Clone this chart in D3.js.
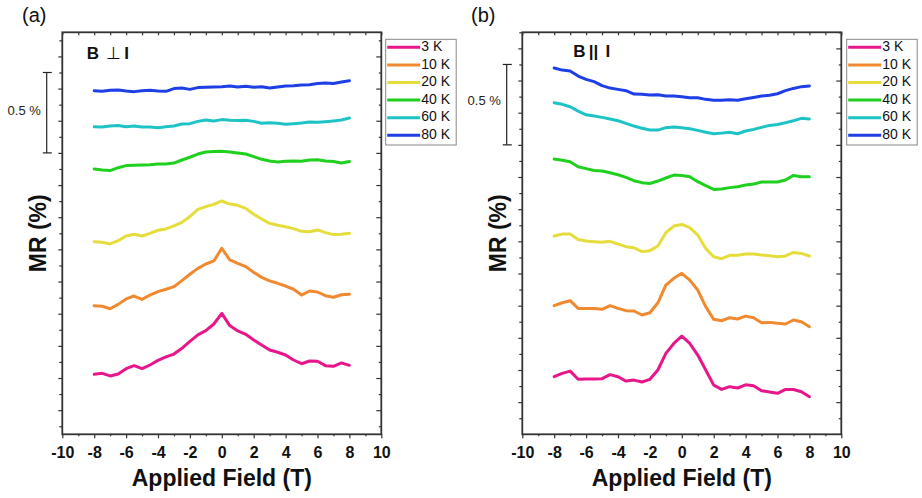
<!DOCTYPE html>
<html>
<head>
<meta charset="utf-8">
<script src="https://cdn.jsdelivr.net/npm/d3@7"></script>
<style>
body { margin: 0; background: #fff; }
svg text { font-family: Arial, "Liberation Sans", sans-serif; }
</style>
</head>
<body>
<div id="chart"></div>
<script>
// field grid (T)
const fieldT = [-8, -7.5, -7, -6.5, -6, -5.5, -5, -4.5, -4, -3.5, -3, -2.5, -2, -1.5, -1, -0.5,
    0, 0.5, 1, 1.5, 2, 2.5, 3, 3.5, 4, 4.5, 5, 5.5, 6, 6.5, 7, 7.5, 8];

const temps = ["3 K", "10 K", "20 K", "40 K", "60 K", "80 K"];
const colors = ["#e8168b", "#f0892f", "#e5dd3b", "#1fd01f", "#1ec3c5", "#1f3fe6"];

// (a) B perpendicular I, curves offset vertically (%)
const perp3 = [0.223, 0.229, 0.213, 0.225, 0.258, 0.277, 0.258, 0.281, 0.310, 0.331, 0.349, 0.385, 0.428, 0.468, 0.495, 0.536,
    0.602, 0.526, 0.493, 0.472, 0.437, 0.405, 0.374, 0.360, 0.343, 0.312, 0.289, 0.306, 0.304, 0.277, 0.273, 0.294, 0.279];
const perp10 = [0.650, 0.646, 0.631, 0.658, 0.692, 0.710, 0.689, 0.716, 0.737, 0.752, 0.768, 0.806, 0.845, 0.882, 0.909, 0.928,
    1.007, 0.934, 0.913, 0.893, 0.857, 0.826, 0.804, 0.789, 0.772, 0.752, 0.716, 0.741, 0.735, 0.712, 0.702, 0.718, 0.721];
const perp20 = [1.048, 1.044, 1.034, 1.054, 1.083, 1.094, 1.083, 1.100, 1.119, 1.127, 1.146, 1.168, 1.204, 1.249, 1.266, 1.280,
    1.301, 1.282, 1.274, 1.255, 1.218, 1.189, 1.162, 1.150, 1.141, 1.129, 1.112, 1.110, 1.121, 1.104, 1.092, 1.094, 1.100];
const perp40 = [1.500, 1.494, 1.490, 1.508, 1.521, 1.523, 1.525, 1.527, 1.531, 1.531, 1.537, 1.556, 1.573, 1.593, 1.606, 1.608,
    1.610, 1.606, 1.599, 1.593, 1.577, 1.560, 1.550, 1.544, 1.548, 1.550, 1.548, 1.556, 1.558, 1.550, 1.546, 1.537, 1.546];
const perp60 = [1.763, 1.761, 1.767, 1.770, 1.763, 1.767, 1.761, 1.761, 1.757, 1.763, 1.767, 1.780, 1.782, 1.796, 1.805, 1.799,
    1.807, 1.803, 1.801, 1.803, 1.796, 1.784, 1.788, 1.784, 1.778, 1.782, 1.786, 1.792, 1.790, 1.794, 1.799, 1.805, 1.817];
const perp80 = [1.987, 1.983, 1.989, 1.991, 1.985, 1.981, 1.987, 1.989, 1.985, 1.983, 2.000, 2.004, 1.995, 2.006, 2.008, 2.010,
    2.012, 2.016, 2.010, 2.014, 2.008, 2.012, 2.004, 2.010, 2.016, 2.018, 2.022, 2.024, 2.031, 2.035, 2.031, 2.041, 2.049];

// (b) B parallel I
const par3 = [0.158, 0.179, 0.193, 0.142, 0.144, 0.144, 0.146, 0.171, 0.158, 0.131, 0.137, 0.125, 0.142, 0.200, 0.303, 0.365,
    0.411, 0.365, 0.293, 0.200, 0.106, 0.079, 0.096, 0.088, 0.108, 0.102, 0.071, 0.063, 0.055, 0.079, 0.079, 0.065, 0.034];
const par10 = [0.600, 0.618, 0.631, 0.583, 0.583, 0.583, 0.577, 0.600, 0.583, 0.569, 0.567, 0.542, 0.556, 0.618, 0.728, 0.770,
    0.801, 0.759, 0.697, 0.594, 0.515, 0.506, 0.525, 0.517, 0.535, 0.525, 0.494, 0.496, 0.490, 0.486, 0.511, 0.500, 0.469];
const par20 = [1.033, 1.045, 1.045, 1.012, 1.002, 0.998, 0.994, 1.000, 0.983, 0.967, 0.960, 0.936, 0.942, 0.971, 1.054, 1.095,
    1.105, 1.085, 1.039, 0.956, 0.904, 0.892, 0.913, 0.913, 0.921, 0.921, 0.915, 0.911, 0.904, 0.909, 0.931, 0.925, 0.909];
const par40 = [1.512, 1.504, 1.495, 1.464, 1.452, 1.441, 1.437, 1.427, 1.414, 1.398, 1.377, 1.365, 1.360, 1.375, 1.394, 1.412,
    1.410, 1.402, 1.371, 1.346, 1.323, 1.325, 1.334, 1.340, 1.350, 1.356, 1.369, 1.369, 1.369, 1.381, 1.410, 1.402, 1.402];
const par60 = [1.862, 1.852, 1.837, 1.810, 1.787, 1.779, 1.771, 1.761, 1.750, 1.734, 1.717, 1.703, 1.692, 1.692, 1.707, 1.711,
    1.707, 1.700, 1.690, 1.678, 1.669, 1.673, 1.678, 1.669, 1.686, 1.696, 1.709, 1.721, 1.727, 1.738, 1.750, 1.765, 1.761];
const par80 = [2.078, 2.065, 2.059, 2.028, 2.007, 1.993, 1.968, 1.953, 1.945, 1.937, 1.916, 1.914, 1.910, 1.912, 1.904, 1.904,
    1.899, 1.893, 1.893, 1.883, 1.877, 1.877, 1.881, 1.877, 1.887, 1.895, 1.904, 1.908, 1.918, 1.937, 1.951, 1.962, 1.966];

const xMajor = [-10, -8, -6, -4, -2, 0, 2, 4, 6, 8, 10];
const xMinor = [-9, -7, -5, -3, -1, 1, 3, 5, 7, 9];
const yMajor = [0, 0.2, 0.4, 0.6, 0.8, 1.0, 1.2, 1.4, 1.6, 1.8, 2.0, 2.2];
const yMinor = [-0.1, 0.1, 0.3, 0.5, 0.7, 0.9, 1.1, 1.3, 1.5, 1.7, 1.9, 2.1, 2.3];
const scaleBar = [1.6, 2.1];

const svg = d3.select("#chart").append("svg")
    .attr("width", 922).attr("height", 498);

function drawPanel(p) {
    const width = 319, height = 402;
    const g = svg.append("g").attr("transform", `translate(${p.left},32.3)`);

    const x = d3.scaleLinear().domain([-10, 10]).range([0, width]);
    const y = d3.scaleLinear().domain(p.yDomain).range([height, 0]);

    // ticks
    const tickStyle = sel => {
        sel.select(".domain").remove();
        sel.selectAll("line").attr("stroke", "#333").attr("stroke-width", 1.2);
    };
    g.append("g").attr("transform", `translate(0,${height})`)
        .call(d3.axisBottom(x).tickValues(xMajor).tickSize(4).tickPadding(8).tickFormat(d => String(d)))
        .call(tickStyle)
        .selectAll("text")
        .attr("fill", "#111")
        .style("font-size", "16px").style("font-weight", "bold");
    g.append("g").attr("transform", `translate(0,${height})`)
        .call(d3.axisBottom(x).tickValues(xMinor).tickSize(2).tickFormat(""))
        .call(tickStyle);
    g.append("g")
        .call(d3.axisBottom(x).tickValues(xMajor.concat(xMinor)).tickSize(3).tickFormat(""))
        .call(tickStyle);
    g.append("g")
        .call(d3.axisLeft(y).tickValues(yMajor).tickSize(4).tickFormat(""))
        .call(tickStyle);
    g.append("g")
        .call(d3.axisLeft(y).tickValues(yMinor).tickSize(3).tickFormat(""))
        .call(tickStyle);
    g.append("g").attr("transform", `translate(${width},0)`)
        .call(d3.axisLeft(y).tickValues(yMajor).tickSize(5).tickFormat(""))
        .call(tickStyle);
    g.append("g").attr("transform", `translate(${width},0)`)
        .call(d3.axisLeft(y).tickValues(yMinor).tickSize(2.5).tickFormat(""))
        .call(tickStyle);

    g.append("rect")
        .attr("width", width).attr("height", height)
        .attr("fill", "none").attr("stroke", "#333").attr("stroke-width", 1.8);

    // curves
    const line = d3.line()
        .x((d, i) => x(fieldT[i]))
        .y(d => y(d))
        .curve(d3.curveLinear);
    p.series.forEach((s, i) => {
        g.append("path")
            .datum(s)
            .attr("fill", "none")
            .attr("stroke", colors[i])
            .attr("stroke-width", 3)
            .attr("stroke-linejoin", "round")
            .attr("stroke-linecap", "round")
            .attr("d", line);
    });

    // 0.5 % scale bar
    const sb = g.append("g").attr("stroke", "#222").attr("stroke-width", 1.2);
    sb.append("line").attr("x1", -15.6).attr("x2", -15.6)
        .attr("y1", y(scaleBar[0])).attr("y2", y(scaleBar[1]));
    scaleBar.forEach(v => {
        sb.append("line").attr("x1", -19.5).attr("x2", -10.5)
            .attr("y1", y(v)).attr("y2", y(v));
    });
    g.append("text")
        .attr("x", -21.5)
        .attr("y", (y(scaleBar[0]) + y(scaleBar[1])) / 2 + p.sbDy)
        .attr("text-anchor", "end")
        .attr("dominant-baseline", "middle")
        .style("font-size", "13px")
        .attr("fill", "#222")
        .text("0.5 %");

    // panel title, symbol part in normal weight
    const tt = g.append("text")
        .attr("y", p.titleY)
        .style("font-size", "17px")
        .attr("fill", "#111");
    p.title.forEach(part => {
        tt.append("tspan")
            .attr("x", part.x)
            .style("font-weight", part.bold ? "bold" : "normal")
            .text(part.t);
    });

    g.append("text")
        .attr("x", width / 2).attr("y", 454)
        .attr("text-anchor", "middle")
        .style("font-size", "23px").style("font-weight", "bold")
        .attr("fill", "#111")
        .text("Applied Field (T)");
    g.append("text")
        .attr("transform", `translate(-16,201) rotate(-90)`)
        .attr("text-anchor", "middle")
        .style("font-size", "23px").style("font-weight", "bold")
        .attr("fill", "#111")
        .text("MR (%)");
    svg.append("text")
        .attr("x", p.tagX).attr("y", 22)
        .style("font-size", "20px")
        .attr("fill", "#111")
        .text(p.tag);

    // legend
    const lg = svg.append("g").attr("transform", `translate(${p.legendX},39.3)`);
    lg.append("rect")
        .attr("width", 70.5).attr("height", 105.7)
        .attr("fill", "#fff").attr("stroke", "#888").attr("stroke-width", 1);
    temps.forEach((t, i) => {
        const ly = 8 + i * 17.6;
        lg.append("line")
            .attr("x1", 1.5).attr("x2", 34.5)
            .attr("y1", ly).attr("y2", ly)
            .attr("stroke", colors[i]).attr("stroke-width", 3);
        lg.append("text")
            .attr("x", 35.5).attr("y", ly)
            .attr("dominant-baseline", "middle")
            .style("font-size", "14px")
            .attr("fill", "#111")
            .text(t);
    });
}

drawPanel({
    left: 62.3, yDomain: [-0.15, 2.35], sbDy: -1,
    series: [perp3, perp10, perp20, perp40, perp60, perp80],
    tag: "(a)", tagX: 22,
    title: [{t: "B", x: 24.4, bold: true}, {t: "\u22A5", x: 44, bold: false}, {t: "I", x: 62, bold: true}],
    titleY: 27.2, legendX: 385.7
});
drawPanel({
    left: 522.3, yDomain: [-0.2, 2.3], sbDy: -3,
    series: [par3, par10, par20, par40, par60, par80],
    tag: "(b)", tagX: 471,
    title: [{t: "B", x: 51, bold: true}, {t: "||", x: 66.5, bold: true}, {t: "I", x: 83.2, bold: true}],
    titleY: 24.4, legendX: 846.7
});
</script>
</body>
</html>
